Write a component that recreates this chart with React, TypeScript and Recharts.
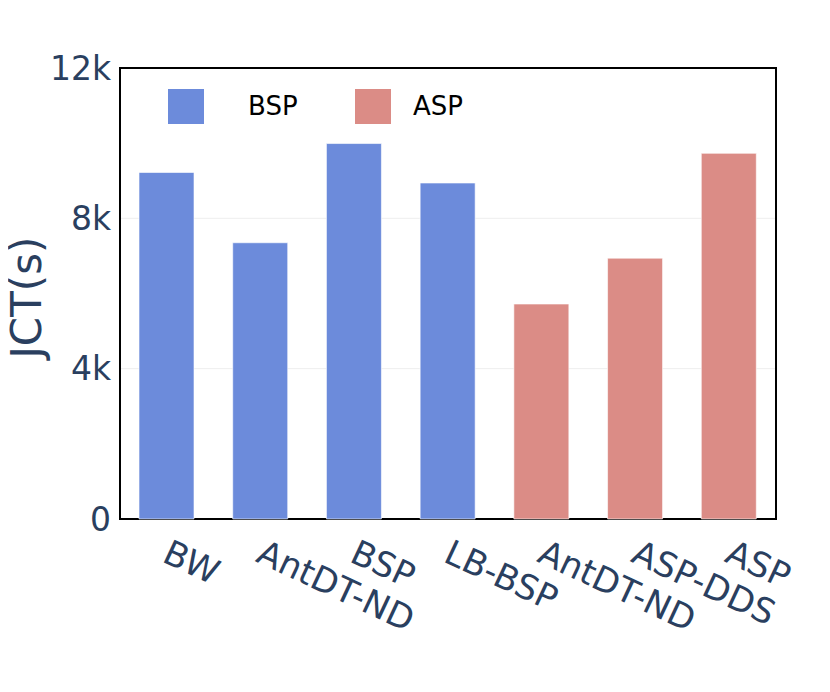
import React from 'react';
import { BarChart, Bar, XAxis, YAxis, CartesianGrid, Cell, Legend, ReferenceArea } from 'recharts';

const categories = ['BW', 'AntDT-ND', 'BSP', 'LB-BSP', 'AntDT-ND', 'ASP-DDS', 'ASP'];
const groups = ['BSP', 'BSP', 'BSP', 'BSP', 'ASP', 'ASP', 'ASP'];
const jctValues = [9220, 7350, 9990, 8940, 5720, 6940, 9730];
const yTicks = [0, 4000, 8000, 12000];
const yTickLabels = ['0', '4k', '8k', '12k'];
const legendNames = ['BSP', 'ASP'];
const groupColors: Record<string, string> = { BSP: '#6c8bdb', ASP: '#db8c86' };

const data = categories.map((c, i) => ({ id: String(i), name: c, group: groups[i], jct: jctValues[i] }));

const FONT = 'DejaVu Sans, sans-serif';
const AXIS_COLOR = '#2a3f5f';

const XTick = (props: any) => {
  const { x, y, payload } = props;
  const ax = x - 6;
  const ay = y + 42;
  return (
    <text
      x={ax}
      y={ay}
      transform={`rotate(25, ${ax}, ${ay})`}
      textAnchor="start"
      fill={AXIS_COLOR}
      fontSize={34.5}
      fontFamily={FONT}
    >
      {categories[payload.index]}
    </text>
  );
};

const YTitle = (props: any) => {
  const vb = props.viewBox || { x: 0, y: 0, width: 0, height: 0 };
  const tx = vb.x + 33;
  const ty = vb.y + vb.height / 2 + 4;
  return (
    <text
      x={tx}
      y={ty}
      transform={`rotate(-90, ${tx}, ${ty})`}
      textAnchor="middle"
      fill={AXIS_COLOR}
      fontSize={42}
      fontFamily={FONT}
    >
      JCT(s)
    </text>
  );
};

const LegendContent = () => (
  <div style={{ position: 'relative', width: 330, height: 35, fontFamily: FONT }}>
    {legendNames.map((n, i) => (
      <div
        key={n}
        style={{ position: 'absolute', left: i * 187, top: 0, height: 35, display: 'flex', alignItems: 'center' }}
      >
        <div style={{ width: 36, height: 35, background: groupColors[n] }} />
        <span style={{ marginLeft: i === 0 ? 44 : 22, fontSize: 26, color: '#000', lineHeight: '35px' }}>{n}</span>
      </div>
    ))}
  </div>
);

export default function App() {
  return (
    <BarChart width={830} height={692} data={data} margin={{ top: 60, right: 62, left: 0, bottom: 0 }}>
      <CartesianGrid vertical={false} stroke="#eeeeee" strokeWidth={1} />
      <XAxis
        dataKey="id"
        height={181}
        tickSize={0}
        tickMargin={0}
        tickLine={false}
        axisLine={false}
        tick={<XTick />}
        interval={0}
      />
      <YAxis
        width={112}
        domain={[0, 12000]}
        ticks={yTicks}
        interval={0}
        tickSize={0}
        tickMargin={9}
        tickLine={false}
        axisLine={false}
        tickFormatter={(v: number) => yTickLabels[yTicks.indexOf(v)]}
        tick={{ fill: AXIS_COLOR, fontSize: 33, fontFamily: FONT }}
        label={<YTitle />}
      />
      <Legend
        layout="horizontal"
        verticalAlign="middle"
        align="center"
        content={<LegendContent />}
        wrapperStyle={{ position: 'absolute', top: 81, left: 160, width: 330, height: 35 }}
      />
      <Bar dataKey="jct" barSize={55} isAnimationActive={false}>
        {data.map((d, i) => (
          <Cell key={i} fill={groupColors[d.group]} stroke="#ffffff" strokeOpacity={0.6} strokeWidth={1} />
        ))}
      </Bar>
      <ReferenceArea
        y1={0}
        y2={12000}
        fill="none"
        fillOpacity={0}
        stroke="#000"
        strokeWidth={2}
        ifOverflow="visible"
      />
    </BarChart>
  );
}
